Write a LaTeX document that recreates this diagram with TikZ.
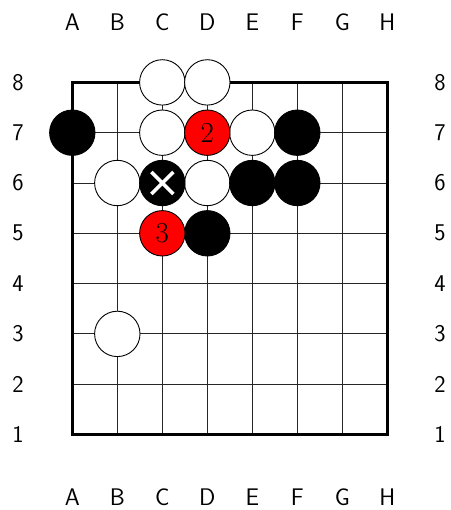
\documentclass[tikz,border=0pt]{standalone}
\usepackage{fontspec}
\begin{document}
\begin{tikzpicture}[x=1pt,y=-1pt,
  stone/.style={circle,draw=black,line width=0.9pt,minimum size=45.4pt,inner sep=0pt},
  wst/.style={stone,fill=white},
  bst/.style={stone,fill=black},
  rst/.style={stone,fill=red,font=\fontsize{29}{31}\selectfont},
  lbl/.style={font=\sffamily\fontsize{24}{28}\selectfont},
  gridline/.style={line width=0.9pt,black!85},
  border/.style={line width=3pt,black}]
\useasboundingbox (0,0) rectangle (450,510);
% coordinates of points
\foreach \l [count=\i from 0] in {A,B,C,D,E,F,G,H}{
  \foreach \r in {1,...,8}{
    \coordinate (p-\l\r) at ({72.3+45*\i},{82.4+50.3*(8-\r)});
  }
}
% grid
\foreach \l in {B,C,D,E,F,G}{
  \draw[gridline] (p-\l8) -- (p-\l1);
}
\foreach \r in {2,...,7}{
  \draw[gridline] (p-A\r) -- (p-H\r);
}
\draw[border] (p-A8) -- (p-H8) -- (p-H1) -- (p-A1) -- cycle;
% labels
\foreach \l [count=\i from 0] in {A,B,C,D,E,F,G,H}{
  \node[lbl] (t\l) at ({72.3+45*\i},22) {\l};
  \node[lbl] (b\l) at ({72.3+45*\i},497) {\l};
}
\foreach \r in {1,...,8}{
  \node[lbl] (l\r) at (18,{82.4+50.3*(8-\r)}) {\r};
  \node[lbl] (r\r) at (440,{82.4+50.3*(8-\r)}) {\r};
}
% white stones
\foreach \s in {C8,D8,C7,E7,B6,D6,B3}{
  \node[wst] (s\s) at (p-\s) {};
}
% black stones
\foreach \s in {A7,F7,E6,F6,D5,C6}{
  \node[bst] (s\s) at (p-\s) {};
}
% red numbered stones
\node[rst] (sD7) at (p-D7) {2};
\node[rst] (sC5) at (p-C5) {3};
% cross mark on C6
\draw[white,line width=3.6pt] ([shift={(-11,-11)}]sC6.center) -- ([shift={(11,11)}]sC6.center);
\draw[white,line width=3.6pt] ([shift={(-11,11)}]sC6.center) -- ([shift={(11,-11)}]sC6.center);
\end{tikzpicture}
\end{document}
